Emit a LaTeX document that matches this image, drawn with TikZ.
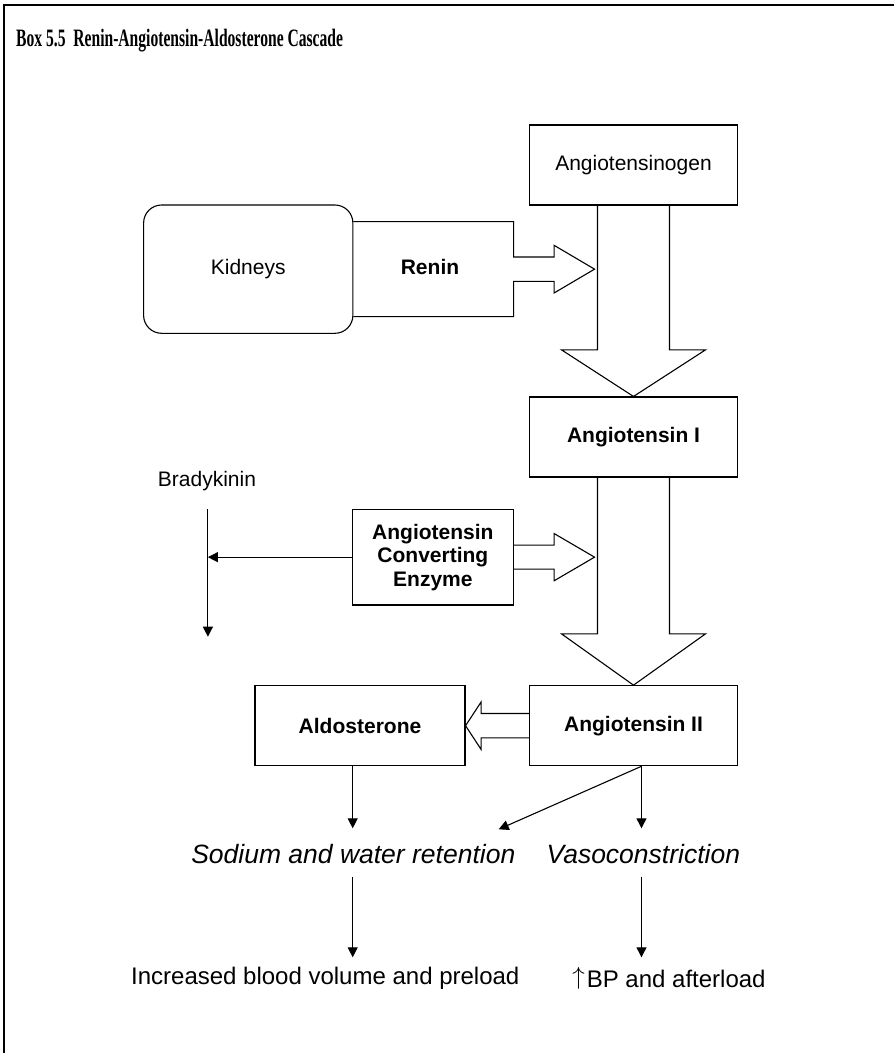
\documentclass[tikz,border=0pt]{standalone}
\usepackage{fontspec}
\usepackage{graphicx}
\setmainfont{Liberation Sans}
\newfontfamily\titlefont{Liberation Serif}
\usetikzlibrary{arrows.meta,calc}
\begin{document}
\begin{tikzpicture}[x=1pt,y=-1pt,
  lbl/.style={font=\fontsize{21}{24}\selectfont, inner sep=0pt},
  boxed/.style={draw, line width=1.1pt, inner sep=0pt, minimum width=208pt, minimum height=80pt, font=\fontsize{21}{24}\selectfont},
  blk/.style={draw, line width=1.1pt},
  arr/.style={line width=1.1pt, -{Triangle[length=10pt,width=10pt]}},
  frameline/.style={line width=2pt}]
\useasboundingbox (0,0) rectangle (894,1053);
\draw[frameline] (3.5,1053) -- (3.5,4.5) -- (894,4.5);
\node[anchor=base west, inner sep=0pt] (title) at (16,46) {\titlefont\bfseries\fontsize{25}{28}\selectfont\scalebox{0.624}[1]{Box 5.5\ \ Renin-Angiotensin-Aldosterone Cascade}};
% Kidneys and renin
\node[draw, line width=1.1pt, rounded corners=18pt, minimum width=209.3pt, minimum height=128.3pt, lbl] (kid) at (248.25,269.15) {Kidneys};
\draw[blk] ($(kid.east)+(0,-47.5)$) -- ++(160.1,0) -- ++(0,35.3) -- ++(40.6,0) -- ++(0,-11.6) -- ++(40.4,23.8) -- ++(-40.4,23.8) -- ++(0,-11.6) -- ++(-40.6,0) -- ++(0,35.3) -- ++(-160.1,0);
\node[lbl] (renin) at (430,267) {\bfseries Renin};
% main column
\node[boxed] (agen) at (633.5,165) {Angiotensinogen};
\node[boxed] (ang1) at (633.5,437) {\bfseries Angiotensin I};
\node[boxed] (ang2) at (633.5,725.7) {\bfseries Angiotensin II};
\node[boxed, minimum width=210pt] (ald) at (360,725.7) {\bfseries Aldosterone};
\draw[blk] ($(agen.south)+(-36,0)$) -- ($(agen.south)+(-36,144.3)$) -- ($(agen.south)+(-72,144.3)$) -- (ang1.north) -- ($(agen.south)+(72,144.3)$) -- ($(agen.south)+(36,144.3)$) -- ($(agen.south)+(36,0)$);
\draw[blk] ($(ang1.south)+(-36,0)$) -- ($(ang1.south)+(-36,156.3)$) -- ($(ang1.south)+(-72,156.3)$) -- (ang2.north) -- ($(ang1.south)+(72,156.3)$) -- ($(ang1.south)+(36,156.3)$) -- ($(ang1.south)+(36,0)$);
% ACE
\node[draw, line width=1.1pt, inner sep=0pt, minimum width=160.7pt, minimum height=95.7pt, align=center, font=\fontsize{21}{23.5}\selectfont\bfseries] (ace) at (432.85,557.15) {Angiotensin\\Converting\\Enzyme};
\draw[blk] ($(ace.east)+(0,-12)$) -- ++(40.4,0) -- ++(0,-11.6) -- ++(40.4,23.6) -- ++(-40.4,23.6) -- ++(0,-11.6) -- ++(-40.4,0);
% Ang II -> Aldosterone
\draw[blk] ($(ang2.west)+(0,-12.2)$) -- ++(-47.8,0) -- ++(0,-11.6) -- (ald.east) -- ($(ang2.west)+(-47.8,23.8)$) -- ++(0,-11.6) -- ++(47.8,0);
% Bradykinin
\node[lbl] (brady) at (207,481) {Bradykinin};
\coordinate (bktop) at (207.9,509);
\coordinate (bkbot) at (207.9,636.7);
\draw[arr] (bktop) -- (bkbot);
\draw[arr] (ace.west) -- (ace.west -| bktop);
% effects
\node[inner sep=0pt, font=\fontsize{26.5}{30}\selectfont\itshape] (sod) at (353.3,854) {Sodium and water retention};
\node[inner sep=0pt, font=\fontsize{26.5}{30}\selectfont\itshape] (vaso) at (643.3,854) {Vasoconstriction};
\coordinate (a1) at (352.7,828.3);
\coordinate (a2) at (641.5,828.3);
\coordinate (a3) at (498.7,829.3);
\draw[arr] (ald.south -| a1) -- (a1);
\draw[arr] (ang2.south -| a2) -- (a2);
\draw[arr] (ang2.south -| a2) -- (a3);
\node[inner sep=0pt, font=\fontsize{24}{28}\selectfont] (inc) at (325.3,978) {Increased blood volume and preload};
\node[inner sep=0pt, font=\fontsize{24}{28}\selectfont] (bp) at (669,978) {\raisebox{0.12em}{$\uparrow$}\kern2pt BP and afterload};
\coordinate (b1s) at (352.7,876.7);
\coordinate (b1e) at (352.7,957.3);
\coordinate (b2s) at (641.5,876.7);
\coordinate (b2e) at (641.5,957.3);
\draw[arr] (b1s) -- (b1e);
\draw[arr] (b2s) -- (b2e);
\end{tikzpicture}
\end{document}
